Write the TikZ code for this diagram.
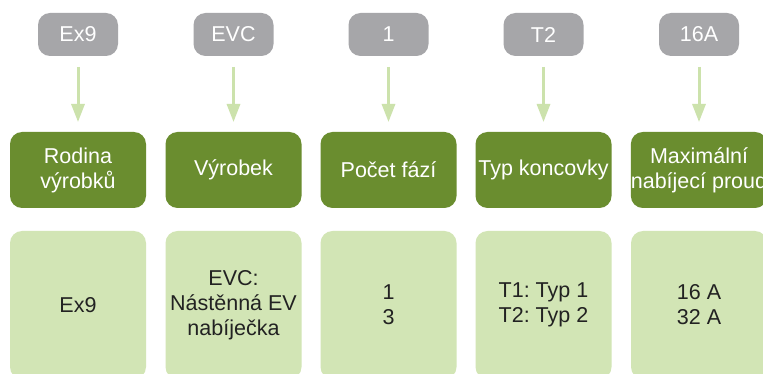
\documentclass[tikz,border=0pt]{standalone}
\usepackage{fontspec}
\setmainfont{Liberation Sans}
\frenchspacing
\usetikzlibrary{arrows.meta}
\definecolor{grayc}{HTML}{A6A6A9}
\definecolor{darkg}{HTML}{6A8D2F}
\definecolor{lightg}{HTML}{D2E5B5}
\definecolor{arrowg}{HTML}{CCE2AC}
\definecolor{txt}{HTML}{222222}
\begin{document}
\begin{tikzpicture}[x=1pt,y=-1pt,
  codebox/.style={fill=grayc, rounded corners=12pt, minimum width=80pt, minimum height=43pt, inner sep=0pt, text=white, font=\fontsize{21.5}{25}\selectfont},
  headbox/.style={fill=darkg, rounded corners=12pt, minimum width=136pt, minimum height=76pt, inner sep=0pt, text=white, align=center, font=\fontsize{21.5}{25}\selectfont},
  valbox/.style={fill=lightg, rounded corners=12pt, minimum width=136pt, minimum height=148pt, inner sep=0pt, text=txt, align=center, font=\fontsize{21.5}{25}\selectfont},
  flow/.style={draw=arrowg, line width=3pt, -{Triangle[width=13pt,length=18pt]}}]
\useasboundingbox (0,0) rectangle (763,374);
\clip (0,0) rectangle (763,374);
\fill[white] (0,0) rectangle (763,374);
\foreach \i/\cx/\code/\head/\val in {
  1/78/Ex9/{Rodina\\výrobků}/{Ex9},
  2/233.5/EVC/{Výrobek}/{EVC:\\Nástěnná EV\\nabíječka},
  3/388.5/1/{Počet fází}/{1\\3},
  4/543.5/T2/{Typ koncovky}/{T1: Typ 1\\T2: Typ 2},
  5/699/16A/{Maximální\\nabíjecí proud}/{16 A\\32 A}} {
  \node[codebox] (c\i) at (\cx,34.5) {\code};
  \node[headbox] (h\i) at (\cx,170) {\head};
  \node[valbox] (v\i) at (\cx,305) {\val};
  \coordinate (s\i) at (\cx,67);
  \coordinate (e\i) at (\cx,122);
  \draw[flow] (s\i) -- (e\i);
}
\end{tikzpicture}
\end{document}
